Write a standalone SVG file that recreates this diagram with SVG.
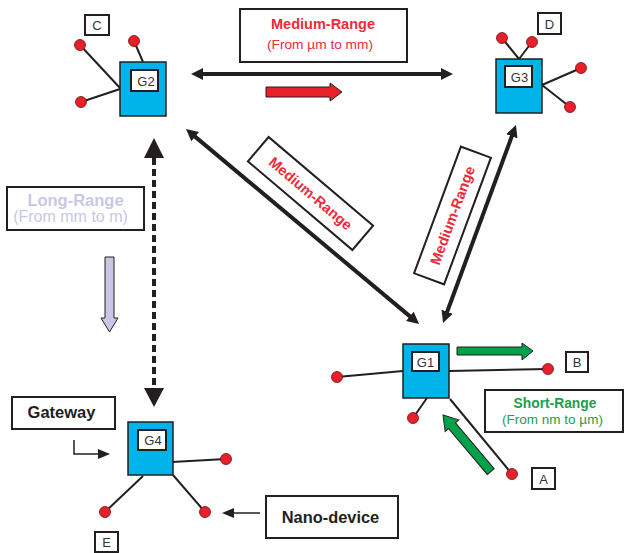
<svg xmlns="http://www.w3.org/2000/svg" width="624" height="553" viewBox="0 0 624 553">
<style>
text{font-family:"Liberation Sans",Arial,sans-serif;}
.gw{fill:#00b3e8;stroke:#231f20;stroke-width:1.5;}
.lb{fill:#fff;stroke:#231f20;stroke-width:2;}
.lt{font-size:13px;fill:#333;text-anchor:middle;}
.dot{fill:#e8202a;stroke:#6b1014;stroke-width:0.8;}
.ln{stroke:#231f20;stroke-width:2;fill:none;}
.box{fill:#fff;stroke:#231f20;stroke-width:2;}
.red{fill:#ee2a3a;text-anchor:middle;}
.conn{stroke:#231f20;stroke-width:4;fill:none;}
</style>
<defs>
<marker id="ah" markerUnits="userSpaceOnUse" markerWidth="12" markerHeight="12" viewBox="0 0 12 12" refX="4" refY="6" orient="auto-start-reverse">
<path d="M0,0 L12,6 L0,12 z" fill="#231f20"/>
</marker>
</defs>

<g id="connectors">
<line class="conn" x1="199" y1="74" x2="445" y2="74" marker-start="url(#ah)" marker-end="url(#ah)"/>
<line class="conn" stroke-width="3.5" x1="192.1" y1="134.1" x2="412.9" y2="318.9" marker-start="url(#ah)" marker-end="url(#ah)"/>
<line class="conn" stroke-width="3.5" x1="513.2" y1="132.5" x2="445.8" y2="315.5" marker-start="url(#ah)" marker-end="url(#ah)"/>
<line class="conn" x1="154" y1="158" x2="154" y2="388" stroke-dasharray="7 4"/>
<polygon points="154,138 144,158 164,158" fill="#231f20"/>
<polygon points="154,407 144,388 164,388" fill="#231f20"/>
<polyline points="74,440 74,454 100,454" fill="none" stroke="#231f20" stroke-width="1.5"/>
<polygon points="110,454 98,449 98,459" fill="#231f20"/>
<line x1="234" y1="513" x2="260" y2="513" stroke="#231f20" stroke-width="1.5"/>
<polygon points="222,513 234,508 234,518" fill="#231f20"/>
</g>

<g id="arrow-red">
<polygon points="266,87 330,87 330,83 342,92 330,101 330,97 266,97" fill="#e8202a" stroke="#231f20" stroke-width="1"/>
</g>
<g id="arrow-lavender">
<polygon points="105,257 114,257 114,318 118,318 109.5,332 101,318 105,318" fill="#c8c8e6" stroke="#231f20" stroke-width="1"/>
</g>
<g id="arrow-green-right">
<polygon points="457,347 522,347 522,343 533,351 522,360 522,355 457,355" fill="#00a14b" stroke="#231f20" stroke-width="1"/>
</g>
<g id="arrow-green-diag" transform="translate(443,415) rotate(49.8)">
<polygon points="0,0 14,-9 14,-4.5 74,-4.5 74,4.5 14,4.5 14,9" fill="#00a14b" stroke="#231f20" stroke-width="1"/>
</g>

<g id="label-medium-top">
<rect class="box" x="240" y="9" width="167" height="53"/>
<text class="red" x="323" y="29" font-size="14.5" font-weight="bold">Medium-Range</text>
<text class="red" x="320" y="49" font-size="13.7">(From µm to mm)</text>
</g>
<g id="label-medium-diag1" transform="translate(310.5,193.5) rotate(40.3)">
<rect class="box" x="-68.5" y="-16" width="137" height="32"/>
<text class="red" x="0" y="5" font-size="14.5" font-weight="bold">Medium-Range</text>
</g>
<g id="label-medium-diag2" transform="translate(452.5,215.5) rotate(-69.7)">
<rect class="box" x="-67.5" y="-16" width="135" height="32"/>
<text class="red" x="0" y="5" font-size="14.5" font-weight="bold">Medium-Range</text>
</g>
<g id="label-long">
<rect class="box" x="7" y="187" width="137" height="43"/>
<text x="75.5" y="206" font-size="16.5" font-weight="bold" fill="#c8c8e6" text-anchor="middle">Long-Range</text>
<text x="70.5" y="222" font-size="16" fill="#c8c8e6" text-anchor="middle">(From mm to m)</text>
</g>
<g id="label-short">
<rect class="box" x="485" y="390" width="138" height="42"/>
<text x="555" y="408" font-size="13.8" font-weight="bold" fill="#1aa04a" text-anchor="middle">Short-Range</text>
<text x="552.5" y="424" font-size="13.5" fill="#1aa04a" text-anchor="middle">(From nm to µm)</text>
</g>
<g id="label-gateway">
<rect class="box" x="12" y="397" width="103" height="32"/>
<text x="61.5" y="418" font-size="16.5" font-weight="bold" fill="#231f20" text-anchor="middle">Gateway</text>
</g>
<g id="label-nano">
<rect class="box" x="266" y="496" width="132" height="42"/>
<text x="330.5" y="523" font-size="16.4" font-weight="bold" fill="#231f20" text-anchor="middle">Nano-device</text>
</g>

<g id="G2">
<line class="ln" x1="80" y1="45" x2="120" y2="88"/>
<line class="ln" x1="81" y1="102" x2="120" y2="89"/>
<line class="ln" x1="134" y1="41" x2="143" y2="62"/>
<rect class="gw" x="120" y="62" width="46" height="54"/>
<rect class="lb" x="131" y="70" width="27" height="21"/>
<text class="lt" x="146" y="85.5">G2</text>
<circle class="dot" cx="80" cy="45" r="5.5"/>
<circle class="dot" cx="134" cy="41" r="5.5"/>
<circle class="dot" cx="81" cy="102" r="5.5"/>
</g>
<g id="C">
<rect class="lb" x="85" y="15" width="24" height="20" stroke-width="1.5"/>
<text class="lt" x="97" y="30">C</text>
</g>

<g id="G3">
<line class="ln" x1="502" y1="38" x2="519" y2="59"/>
<line class="ln" x1="532" y1="42" x2="519" y2="59"/>
<line class="ln" x1="542" y1="85" x2="581" y2="68"/>
<line class="ln" x1="542" y1="85" x2="570" y2="107"/>
<rect class="gw" x="496" y="59" width="46" height="54"/>
<rect class="lb" x="505" y="66" width="27" height="21"/>
<text class="lt" x="519.5" y="81.5">G3</text>
<circle class="dot" cx="502" cy="38" r="5.5"/>
<circle class="dot" cx="532" cy="42" r="5.5"/>
<circle class="dot" cx="581" cy="68" r="5.5"/>
<circle class="dot" cx="570" cy="107" r="5.5"/>
</g>
<g id="D">
<rect class="lb" x="538" y="13" width="23" height="21" stroke-width="1.5"/>
<text class="lt" x="549.5" y="28.5">D</text>
</g>

<g id="G1">
<line class="ln" x1="403" y1="371" x2="337" y2="377"/>
<line class="ln" x1="449" y1="371" x2="548" y2="369"/>
<line class="ln" x1="427" y1="398" x2="413" y2="418"/>
<line class="ln" x1="450" y1="399" x2="512" y2="474"/>
<rect class="gw" x="403" y="344" width="46" height="54"/>
<rect class="lb" x="412" y="352" width="27" height="19"/>
<text class="lt" x="425.5" y="366.5">G1</text>
<circle class="dot" cx="337" cy="377" r="5.5"/>
<circle class="dot" cx="548" cy="369" r="5.5"/>
<circle class="dot" cx="413" cy="418" r="5.5"/>
<circle class="dot" cx="512" cy="474" r="5.5"/>
</g>
<g id="B">
<rect class="lb" x="566" y="352" width="22" height="20" stroke-width="1.5"/>
<text class="lt" x="577" y="367">B</text>
</g>
<g id="A">
<rect class="lb" x="532" y="468" width="23" height="21" stroke-width="1.5"/>
<text class="lt" x="543.5" y="483.5">A</text>
</g>

<g id="G4">
<line class="ln" x1="172" y1="462" x2="226" y2="459"/>
<line class="ln" x1="143" y1="476" x2="105" y2="512"/>
<line class="ln" x1="173" y1="475" x2="205" y2="512"/>
<rect class="gw" x="128" y="422" width="45" height="53"/>
<rect class="lb" x="138" y="430" width="28" height="20"/>
<text class="lt" x="153" y="445">G4</text>
<circle class="dot" cx="226" cy="459" r="5.5"/>
<circle class="dot" cx="105" cy="512" r="5.5"/>
<circle class="dot" cx="205" cy="512" r="5.5"/>
</g>
<g id="E">
<rect class="lb" x="95" y="532" width="23" height="20" stroke-width="1.5"/>
<text class="lt" x="106.5" y="547">E</text>
</g>
</svg>
